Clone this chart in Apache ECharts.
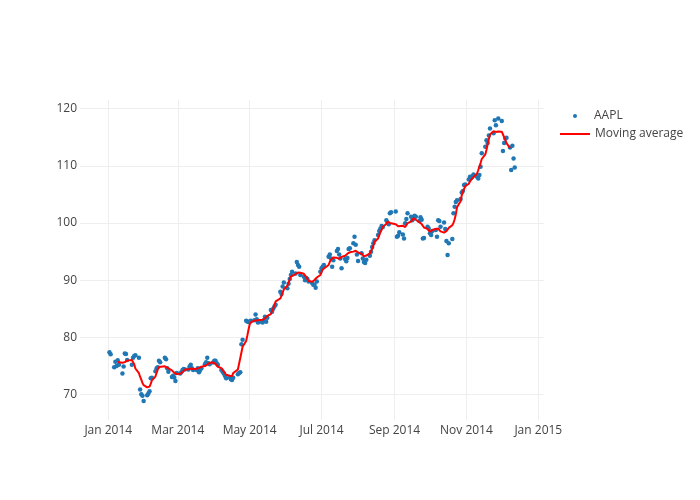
<!DOCTYPE html>
<html><head><meta charset="utf-8">
<script src="https://cdn.jsdelivr.net/npm/echarts@6/dist/echarts.min.js"></script>
<style>html,body{margin:0;padding:0;background:#fff}#chart{width:700px;height:500px}</style>
</head><body><div id="chart"></div>
<script>
// Trading days of 2014 (MM-DD)
const tradeDays = [
 '01-02','01-03','01-06','01-07','01-08','01-09','01-10','01-13','01-14','01-15','01-16','01-17','01-21','01-22','01-23','01-24','01-27','01-28','01-29','01-30','01-31',
 '02-03','02-04','02-05','02-06','02-07','02-10','02-11','02-12','02-13','02-14','02-18','02-19','02-20','02-21','02-24','02-25','02-26','02-27','02-28',
 '03-03','03-04','03-05','03-06','03-07','03-10','03-11','03-12','03-13','03-14','03-17','03-18','03-19','03-20','03-21','03-24','03-25','03-26','03-27','03-28','03-31',
 '04-01','04-02','04-03','04-04','04-07','04-08','04-09','04-10','04-11','04-14','04-15','04-16','04-17','04-21','04-22','04-23','04-24','04-25','04-28','04-29','04-30',
 '05-01','05-02','05-05','05-06','05-07','05-08','05-09','05-12','05-13','05-14','05-15','05-16','05-19','05-20','05-21','05-22','05-23','05-27','05-28','05-29','05-30',
 '06-02','06-03','06-04','06-05','06-06','06-09','06-10','06-11','06-12','06-13','06-16','06-17','06-18','06-19','06-20','06-23','06-24','06-25','06-26','06-27','06-30',
 '07-01','07-02','07-03','07-07','07-08','07-09','07-10','07-11','07-14','07-15','07-16','07-17','07-18','07-21','07-22','07-23','07-24','07-25','07-28','07-29','07-30','07-31',
 '08-01','08-04','08-05','08-06','08-07','08-08','08-11','08-12','08-13','08-14','08-15','08-18','08-19','08-20','08-21','08-22','08-25','08-26','08-27','08-28','08-29',
 '09-02','09-03','09-04','09-05','09-08','09-09','09-10','09-11','09-12','09-15','09-16','09-17','09-18','09-19','09-22','09-23','09-24','09-25','09-26','09-29','09-30',
 '10-01','10-02','10-03','10-06','10-07','10-08','10-09','10-10','10-13','10-14','10-15','10-16','10-17','10-20','10-21','10-22','10-23','10-24','10-27','10-28','10-29','10-30','10-31',
 '11-03','11-04','11-05','11-06','11-07','11-10','11-11','11-12','11-13','11-14','11-17','11-18','11-19','11-20','11-21','11-24','11-25','11-26','11-28',
 '12-01','12-02','12-03','12-04','12-05','12-08','12-09','12-10','12-11','12-12'
];
// AAPL closing values
const aaplClose = [
 77.4,77.05,74.8,75.75,75.0,76.0,75.2,73.7,74.9,77.2,77.1,76.05,75.2,76.45,76.75,76.9,76.45,70.9,70.05,69.8,68.9,
 69.9,70.2,70.6,72.85,72.95,74.1,74.6,74.8,75.9,75.65,76.45,76.2,74.6,74.0,73.1,73.3,73.0,72.4,73.8,
 73.7,73.9,74.3,74.5,74.4,74.4,74.9,75.2,74.6,74.3,74.3,74.6,73.9,74.3,74.6,75.3,75.65,76.45,75.5,75.3,75.6,
 75.9,75.9,75.5,75.2,74.3,74.0,73.7,73.3,72.85,73.1,72.7,72.55,72.95,73.55,73.8,73.9,78.8,79.6,82.9,82.8,82.7,
 82.75,82.9,83.0,84.0,83.2,82.6,82.7,82.6,83.0,83.6,82.75,83.45,84.8,84.5,85.0,85.4,85.7,88.0,87.6,88.9,89.6,
 88.6,89.4,90.2,90.9,91.5,91.2,93.2,92.65,92.35,90.9,90.6,90.0,90.4,90.2,89.8,89.5,89.2,89.2,88.7,89.8,91.5,
 92.1,92.35,92.65,94.1,94.5,93.8,92.35,93.5,95.1,95.45,94.5,93.8,92.1,93.7,93.3,93.9,95.45,95.6,96.45,97.6,96.2,94.5,
 93.35,94.7,93.8,93.2,93.0,93.6,94.3,95.0,95.8,96.45,97.0,97.9,98.6,99.05,99.5,99.3,100.5,100.1,99.8,101.7,101.9,
 102.0,97.6,97.8,98.4,98.0,97.3,99.95,100.7,101.7,101.1,100.5,100.8,101.3,101.1,100.35,101.0,100.6,97.3,97.4,99.35,99.05,
 98.2,97.9,98.6,98.8,97.6,100.5,100.35,99.35,100.1,98.95,96.85,94.4,96.45,97.2,101.7,102.85,103.7,104.0,104.2,105.35,105.6,106.65,106.75,
 107.6,108.1,107.9,108.2,108.5,108.1,107.8,108.4,109.85,112.2,113.35,114.5,114.0,115.3,116.55,115.7,118.0,117.1,118.3,
 117.85,112.6,114.0,114.8,114.9,113.2,109.3,113.5,111.3,109.7
];
const tickDates = ['2014-01-01','2014-03-01','2014-05-01','2014-07-01','2014-09-01','2014-11-01','2015-01-01'];
const tickLabels = ['Jan 2014','Mar 2014','May 2014','Jul 2014','Sep 2014','Nov 2014','Jan 2015'];
const yTicks = [70,80,90,100,110,120];
const maWindow = 10; // centred rolling mean window

function utc(s){const p=s.split('-').map(Number);return Date.UTC(p[0],p[1]-1,p[2]);}
const times = tradeDays.map(d=>utc('2014-'+d));
const tickTimes = tickDates.map(utc);
const aaplData = times.map((t,i)=>[t,aaplClose[i]]);
const half = maWindow/2;
const maData = [];
for(let i=half;i<=times.length-half;i++){
  let s=0; for(let k=i-half;k<i+half;k++) s+=aaplClose[k];
  maData.push([times[i], s/maWindow]);
}

const font = '"Open Sans", sans-serif';
const chart = echarts.init(document.getElementById('chart'), null, {renderer:'canvas'});
chart.setOption({
  animation:false,
  backgroundColor:'#fff',
  textStyle:{fontFamily:font},
  grid:{left:80,right:156,top:100,bottom:80},
  xAxis:{
    type:'value',
    min:Date.UTC(2013,11,7,23,30), max:Date.UTC(2015,0,5,20),
    axisLine:{show:false},
    axisTick:{show:false, customValues:tickTimes},
    axisLabel:{customValues:tickTimes, formatter:v=>{const i=tickTimes.indexOf(+v);return i>=0?tickLabels[i]:'';},
      color:'#444', fontSize:12, fontFamily:font, margin:5},
    splitLine:{show:true, lineStyle:{color:'#eee', width:1}}
  },
  yAxis:{
    type:'value', min:65.56, max:121.52,
    axisLine:{show:false},
    axisTick:{show:false, customValues:yTicks},
    axisLabel:{customValues:yTicks, color:'#444', fontSize:12, fontFamily:font, margin:3},
    splitLine:{show:true, lineStyle:{color:'#eee', width:1}}
  },
  legend:[
    {data:[{name:'AAPL', icon:'circle', itemStyle:{opacity:1}}], left:573, top:110, padding:0, itemWidth:4, itemHeight:4,
     textStyle:{color:'#444', fontSize:12, fontFamily:font, padding:[0,0,0,12]}},
    {data:[{name:'Moving average', icon:'rect'}], left:560, top:128, padding:0, itemWidth:30, itemHeight:2,
     textStyle:{color:'#444', fontSize:12, fontFamily:font}}
  ],
  series:[
    {type:'scatter', name:'AAPL', data:aaplData, symbolSize:4.5, itemStyle:{color:'#1f77b4', opacity:1}},
    {type:'line', name:'Moving average', data:maData, showSymbol:false, symbol:'none',
     lineStyle:{color:'#ff0000', width:2}, itemStyle:{color:'#ff0000'}}
  ]
});
</script></body></html>
